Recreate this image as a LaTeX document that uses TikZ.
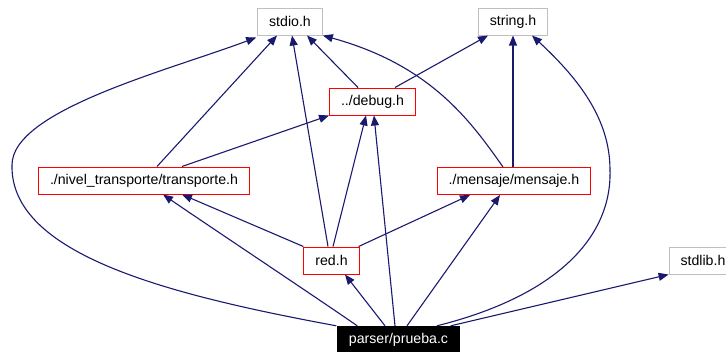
\documentclass[tikz,border=0pt]{standalone}
\usepackage{fontspec}
\setmainfont{Liberation Sans}
\usetikzlibrary{arrows.meta}
\definecolor{edge}{RGB}{25,25,112}
\definecolor{sysbox}{RGB}{191,191,191}
\tikzset{hdr/.style={draw=sysbox,line width=1pt,minimum height=27pt,inner xsep=11.5pt,inner ysep=0pt},
         local/.style={draw=red,line width=1pt,minimum height=27pt,inner xsep=11.5pt,inner ysep=0pt},
         top/.style={fill=black,text=white,minimum height=27pt,inner xsep=11.5pt,inner ysep=0pt},
         dep/.style={draw=edge,line width=1.1pt,-{Triangle[length=10pt,width=8pt]}}}

\begin{document}
\begin{tikzpicture}[x=1pt,y=-1pt,font=\fontsize{14.15}{17}\selectfont]
  \useasboundingbox (0,0) rectangle (726,351);
  % system headers
  \node[hdr] (stdio) at (290,21.5) {stdio.h};
  \node[hdr] (string) at (513,21.5) {string.h};
  \node[hdr] (stdlib) at (703,260.5) {stdlib.h};
  % project headers
  \node[local] (debug) at (372.5,101.5) {../debug.h};
  \node[local] (transp) at (144,180.5) {./nivel\_transporte/transporte.h};
  \node[local] (mensaje) at (514,181) {./mensaje/mensaje.h};
  \node[local] (red) at (331.5,260.5) {red.h};
  \node[top] (prueba) at (398.5,339.5) {parser/prueba.c};

  % includes of prueba.c
  \draw[dep] ([xshift=-1pt]prueba.north west) .. controls (170,295) and (10,255) .. (12,165)
                                  .. controls (12,110) and (170,70) .. ([xshift=-1pt,yshift=-2pt]stdio.south west);
  \draw[dep] ([xshift=20pt]prueba.north west) .. controls (320,300) and (200,220) .. ([xshift=19pt]transp.south);
  \draw[dep] ([xshift=-13.5pt]prueba.north) -- ([xshift=13.5pt]red.south);
  \draw[dep] ([xshift=-3.5pt]prueba.north) -- ([xshift=1.5pt]debug.south);
  \draw[dep] ([xshift=8.5pt]prueba.north) -- ([xshift=-14pt]mensaje.south);
  \draw[dep] ([xshift=38.5pt]prueba.north) .. controls (560,295) and (612,235) .. (610,170)
                                  .. controls (610,120) and (580,80) .. ([xshift=19pt]string.south);
  \draw[dep] ([xshift=-9pt]prueba.north east) -- (stdlib.south west);

  % includes of red.h
  \draw[dep] (red.north west) -- ([xshift=38pt]transp.south);
  \draw[dep] ([xshift=-3.5pt]red.north) -- ([xshift=2pt]stdio.south);
  \draw[dep] ([xshift=1.5pt]red.north) -- ([xshift=-6.5pt]debug.south);
  \draw[dep] ([xshift=-1pt]red.north east) -- ([xshift=-44pt]mensaje.south);

  % includes of the other headers
  \draw[dep] ([xshift=13pt]transp.north) -- ([xshift=-13pt]stdio.south);
  \draw[dep] ([xshift=38pt]transp.north) -- (debug.south west);
  \draw[dep] ([xshift=-14.5pt]debug.north) -- ([xshift=17pt]stdio.south);
  \draw[dep] ([xshift=22.5pt]debug.north) -- ([xshift=-25pt]string.south);
  \draw[dep] ([xshift=-11pt]mensaje.north) .. controls (470,120) and (430,65) .. (stdio.south east);
  \draw[dep] ([xshift=-1pt]mensaje.north) -- (string.south);
\end{tikzpicture}
\end{document}
